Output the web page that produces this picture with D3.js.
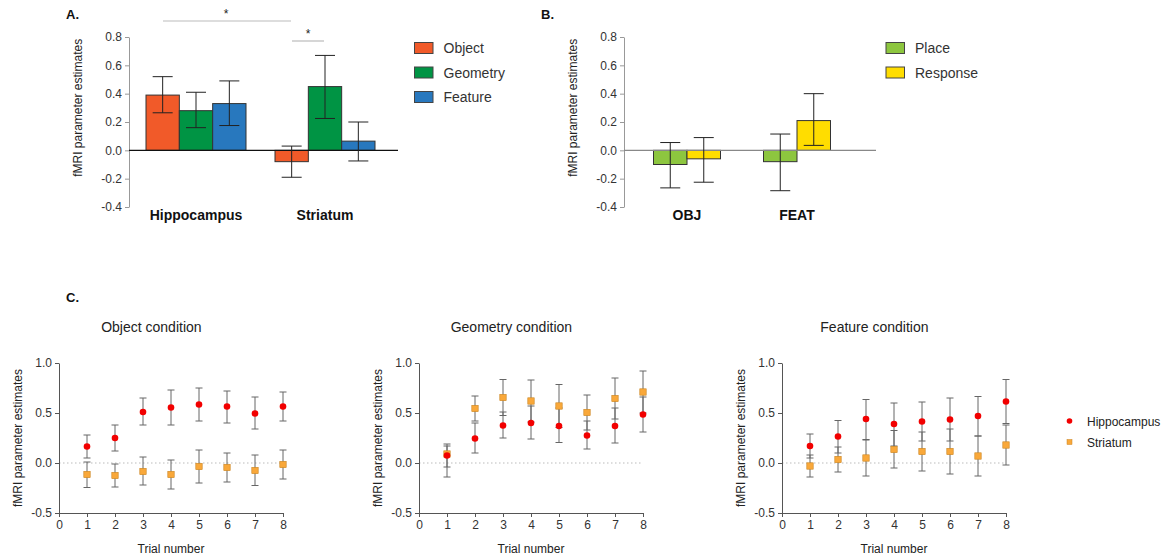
<!DOCTYPE html>
<html>
<head>
<meta charset="utf-8">
<script src="https://cdn.jsdelivr.net/npm/d3@7"></script>
<style>
  body { margin: 0; background: #fff; }
  svg { display: block; font-family: "Liberation Sans", Arial, sans-serif; }
  text { fill: #222; }
</style>
</head>
<body>
<div id="chart"></div>
<script>
'use strict';

// ---- Panel A data (bars: mean, lower / upper error)
var catsA = ["Hippocampus", "Striatum"];
var seriesA = ["Object", "Geometry", "Feature"];
var colorsA = ["#F15A29", "#009444", "#2878BE"];
var meanA = [[0.39, -0.08], [0.28, 0.45], [0.33, 0.065]];
var loA = [[0.265, -0.19], [0.16, 0.225], [0.175, -0.075]];
var hiA = [[0.52, 0.03], [0.41, 0.67], [0.49, 0.20]];

// ---- Panel B data
var catsB = ["OBJ", "FEAT"];
var seriesB = ["Place", "Response"];
var colorsB = ["#8DC63F", "#FFDD00"];
var meanB = [[-0.10, -0.08], [-0.06, 0.21]];
var loB = [[-0.265, -0.285], [-0.225, 0.035]];
var hiB = [[0.055, 0.115], [0.09, 0.40]];

var barTicks = [-0.4, -0.2, 0.0, 0.2, 0.4, 0.6, 0.8];

// ---- Panel C data (per condition, trials 1..8)
var trials = [1, 2, 3, 4, 5, 6, 7, 8];
var conditions = ["Object condition", "Geometry condition", "Feature condition"];
var hipMean = [
  [0.165, 0.25, 0.51, 0.555, 0.585, 0.565, 0.495, 0.565],
  [0.075, 0.245, 0.375, 0.40, 0.37, 0.275, 0.37, 0.485],
  [0.17, 0.265, 0.44, 0.39, 0.415, 0.435, 0.47, 0.615]
];
var hipLo = [
  [0.05, 0.12, 0.38, 0.38, 0.42, 0.40, 0.34, 0.42],
  [-0.04, 0.10, 0.25, 0.24, 0.205, 0.14, 0.20, 0.31],
  [0.05, 0.10, 0.235, 0.17, 0.22, 0.22, 0.27, 0.395]
];
var hipHi = [
  [0.28, 0.38, 0.65, 0.73, 0.75, 0.72, 0.66, 0.71],
  [0.19, 0.40, 0.51, 0.57, 0.55, 0.42, 0.55, 0.66],
  [0.29, 0.425, 0.635, 0.60, 0.61, 0.65, 0.665, 0.835]
];
var strMean = [
  [-0.115, -0.125, -0.085, -0.115, -0.035, -0.045, -0.075, -0.015],
  [0.09, 0.545, 0.655, 0.62, 0.57, 0.505, 0.645, 0.71],
  [-0.03, 0.035, 0.05, 0.135, 0.115, 0.115, 0.07, 0.18]
];
var strLo = [
  [-0.245, -0.24, -0.22, -0.26, -0.20, -0.19, -0.225, -0.16],
  [-0.14, 0.42, 0.475, 0.41, 0.355, 0.33, 0.44, 0.50],
  [-0.14, -0.09, -0.13, -0.05, -0.08, -0.11, -0.13, -0.02]
];
var strHi = [
  [0.01, -0.01, 0.06, 0.03, 0.13, 0.10, 0.08, 0.13],
  [0.17, 0.67, 0.835, 0.83, 0.785, 0.68, 0.85, 0.92],
  [0.08, 0.16, 0.23, 0.325, 0.31, 0.34, 0.27, 0.38]
];
var lineTicks = [-0.5, 0.0, 0.5, 1.0];
var regions = ["Hippocampus", "Striatum"];

var WIDTH = 1165, HEIGHT = 557;
var fmt = function (d) { return d.toFixed(1); };

var svg = d3.select("#chart").append("svg")
    .attr("width", WIDTH)
    .attr("height", HEIGHT);

svg.append("rect").attr("width", WIDTH).attr("height", HEIGHT).style("fill", "#fff");

// ---------- bar panel helper
function barPanel(opt) {
    var g = svg.append("g");
    var y = d3.scaleLinear().domain([-0.4, 0.8]).range([207, 37]);
    var x0 = d3.scaleBand().domain(opt.cats).range(opt.xRange);
    var x1 = d3.scaleBand().domain(opt.series).range([-opt.half, opt.half]);

    // y axis
    var ax = g.append("g")
        .attr("transform", "translate(" + opt.axisX + ",0)")
        .call(d3.axisLeft(y).tickValues(barTicks).tickFormat(fmt).tickSize(4).tickSizeOuter(0));
    ax.select(".domain").style("stroke", "#999");
    ax.selectAll(".tick line").style("stroke", "#999");
    ax.selectAll(".tick text").style("font-size", "12px").style("fill", "#333")
        .style("font-family", "Liberation Sans, Arial, sans-serif");

    g.append("text")
        .attr("transform", "translate(" + (opt.axisX - 47) + "," + y(0.3) + ") rotate(-90)")
        .attr("text-anchor", "middle")
        .style("font-size", "12px")
        .text("fMRI parameter estimates");

    // bars
    opt.series.forEach(function (s, si) {
        var cg = g.append("g");
        cg.selectAll("rect").data(opt.cats).enter().append("rect")
            .attr("x", function (c) { return x0(c) + x0.bandwidth() / 2 + x1(s); })
            .attr("width", x1.bandwidth())
            .attr("y", function (c, ci) { return y(Math.max(0, opt.mean[si][ci])); })
            .attr("height", function (c, ci) { return Math.abs(y(opt.mean[si][ci]) - y(0)); })
            .style("fill", opt.colors[si])
            .style("stroke", "#333")
            .style("stroke-width", 1);
    });

    // zero line
    g.append("line")
        .attr("x1", opt.axisX).attr("x2", opt.zeroEnd)
        .attr("y1", y(0)).attr("y2", y(0))
        .style("stroke", opt.zeroColor).style("stroke-width", 1.2);

    // error bars
    opt.series.forEach(function (s, si) {
        opt.cats.forEach(function (c, ci) {
            var cx = x0(c) + x0.bandwidth() / 2 + x1(s) + x1.bandwidth() / 2;
            var eg = g.append("g").style("stroke", "#222").style("stroke-width", 1);
            eg.append("line").attr("x1", cx).attr("x2", cx)
                .attr("y1", y(opt.lo[si][ci])).attr("y2", y(opt.hi[si][ci]));
            [opt.lo[si][ci], opt.hi[si][ci]].forEach(function (v) {
                eg.append("line").attr("x1", cx - 10).attr("x2", cx + 10)
                    .attr("y1", y(v)).attr("y2", y(v));
            });
        });
    });

    // category labels
    g.selectAll("text.cat").data(opt.cats).enter().append("text")
        .attr("class", "cat")
        .attr("x", function (c) { return x0(c) + x0.bandwidth() / 2; })
        .attr("y", 220)
        .attr("text-anchor", "middle")
        .style("font-size", "14px").style("font-weight", "bold").style("fill", "#111")
        .text(function (c) { return c; });

    // legend
    var lg = g.append("g");
    opt.series.forEach(function (s, si) {
        var ly = 48 + si * 24.5;
        lg.append("rect").attr("x", opt.legendX).attr("y", ly - 5.5)
            .attr("width", 18.5).attr("height", 11)
            .style("fill", opt.colors[si]).style("stroke", "#444");
        lg.append("text").attr("x", opt.legendX + 29).attr("y", ly + 5)
            .style("font-size", "14px").style("fill", "#333").text(s);
    });

    g.append("text").attr("x", opt.labelX).attr("y", 19)
        .style("font-size", "13px").style("font-weight", "bold").style("fill", "#111")
        .text(opt.label);
    return y;
}

var yA = barPanel({
    cats: catsA, series: seriesA, colors: colorsA,
    mean: meanA, lo: loA, hi: hiA,
    xRange: [131.5, 389.5], half: 50, axisX: 129, zeroEnd: 398, zeroColor: "#111",
    legendX: 414.5, labelX: 66, label: "A."
});

barPanel({
    cats: catsB, series: seriesB, colors: colorsB,
    mean: meanB, lo: loB, hi: hiB,
    xRange: [632, 852], half: 33.5, axisX: 624, zeroEnd: 876, zeroColor: "#888",
    legendX: 886, labelX: 541, label: "B."
});

// significance brackets (panel A)
var sig = svg.append("g").style("stroke", "#bbb").style("stroke-width", 1.2);
sig.append("line").attr("x1", 163).attr("x2", 291).attr("y1", 21).attr("y2", 21);
sig.append("line").attr("x1", 292).attr("x2", 324).attr("y1", 41).attr("y2", 41);
svg.append("text").attr("x", 226).attr("y", 18).attr("text-anchor", "middle")
    .style("font-size", "12px").text("*");
svg.append("text").attr("x", 308).attr("y", 38).attr("text-anchor", "middle")
    .style("font-size", "12px").text("*");

// ---------- panel C
svg.append("text").attr("x", 66).attr("y", 302)
    .style("font-size", "13px").style("font-weight", "bold").style("fill", "#111")
    .text("C.");

var axesC = [59, 419, 782];
var y = d3.scaleLinear().domain([-0.5, 1.0]).range([513, 363]);

conditions.forEach(function (cond, k) {
    var ox = axesC[k];
    var x = d3.scaleLinear().domain([0, 8]).range([ox, ox + 224]);
    var g = svg.append("g");

    g.append("text").attr("x", x(3.3)).attr("y", 332).attr("text-anchor", "middle")
        .style("font-size", "14px").style("fill", "#222").text(cond);

    // dotted zero line
    g.append("line").attr("x1", x(0)).attr("x2", x(8))
        .attr("y1", y(0)).attr("y2", y(0))
        .style("stroke", "#bbb").style("stroke-dasharray", "1.5,2.5");

    var ay = g.append("g").attr("transform", "translate(" + ox + ",0)")
        .call(d3.axisLeft(y).tickValues(lineTicks).tickFormat(fmt).tickSize(4).tickSizeOuter(0));
    var axx = g.append("g").attr("transform", "translate(0," + y(-0.5) + ")")
        .call(d3.axisBottom(x).tickValues([0, 1, 2, 3, 4, 5, 6, 7, 8]).tickSize(4).tickSizeOuter(0));
    [ay, axx].forEach(function (a) {
        a.select(".domain").style("stroke", "#555");
        a.selectAll(".tick line").style("stroke", "#555");
        a.selectAll(".tick text").style("font-size", "12px").style("fill", "#333")
            .style("font-family", "Liberation Sans, Arial, sans-serif");
    });

    g.append("text").attr("x", x(4)).attr("y", 553).attr("text-anchor", "middle")
        .style("font-size", "12px").text("Trial number");
    g.append("text")
        .attr("transform", "translate(" + (ox - 37) + "," + y(0.25) + ") rotate(-90)")
        .attr("text-anchor", "middle")
        .style("font-size", "12px")
        .text("fMRI parameter estimates");

    // error bars for both regions
    var sets = [
        { m: strMean[k], lo: strLo[k], hi: strHi[k] },
        { m: hipMean[k], lo: hipLo[k], hi: hipHi[k] }
    ];
    sets.forEach(function (s) {
        var eg = g.append("g").style("stroke", "#666").style("stroke-width", 1);
        trials.forEach(function (t, i) {
            eg.append("line").attr("x1", x(t)).attr("x2", x(t))
                .attr("y1", y(s.lo[i])).attr("y2", y(s.hi[i]));
            [s.lo[i], s.hi[i]].forEach(function (v) {
                eg.append("line").attr("x1", x(t) - 3.5).attr("x2", x(t) + 3.5)
                    .attr("y1", y(v)).attr("y2", y(v));
            });
        });
    });

    // striatum squares
    g.selectAll("rect.str").data(trials).enter().append("rect")
        .attr("class", "str")
        .attr("x", function (t) { return x(t) - 3.2; })
        .attr("y", function (t, i) { return y(strMean[k][i]) - 3.2; })
        .attr("width", 6.4).attr("height", 6.4)
        .style("fill", "#F9A83A").style("stroke", "#C98422").style("stroke-width", 0.6);

    // hippocampus circles
    g.selectAll("circle.hip").data(trials).enter().append("circle")
        .attr("class", "hip")
        .attr("cx", function (t) { return x(t); })
        .attr("cy", function (t, i) { return y(hipMean[k][i]); })
        .attr("r", 3.3)
        .style("fill", "#F20000");
});

// legend C
var lc = svg.append("g");
lc.append("circle").attr("cx", 1069.5).attr("cy", 421).attr("r", 2.8).style("fill", "#F20000");
lc.append("rect").attr("x", 1067).attr("y", 439.5).attr("width", 5).attr("height", 5)
    .style("fill", "#F9A83A").style("stroke", "#C98422").style("stroke-width", 0.5);
regions.forEach(function (r, i) {
    lc.append("text").attr("x", 1087).attr("y", 425.5 + i * 21)
        .style("font-size", "12px").style("fill", "#222").text(r);
});
</script>
</body>
</html>
